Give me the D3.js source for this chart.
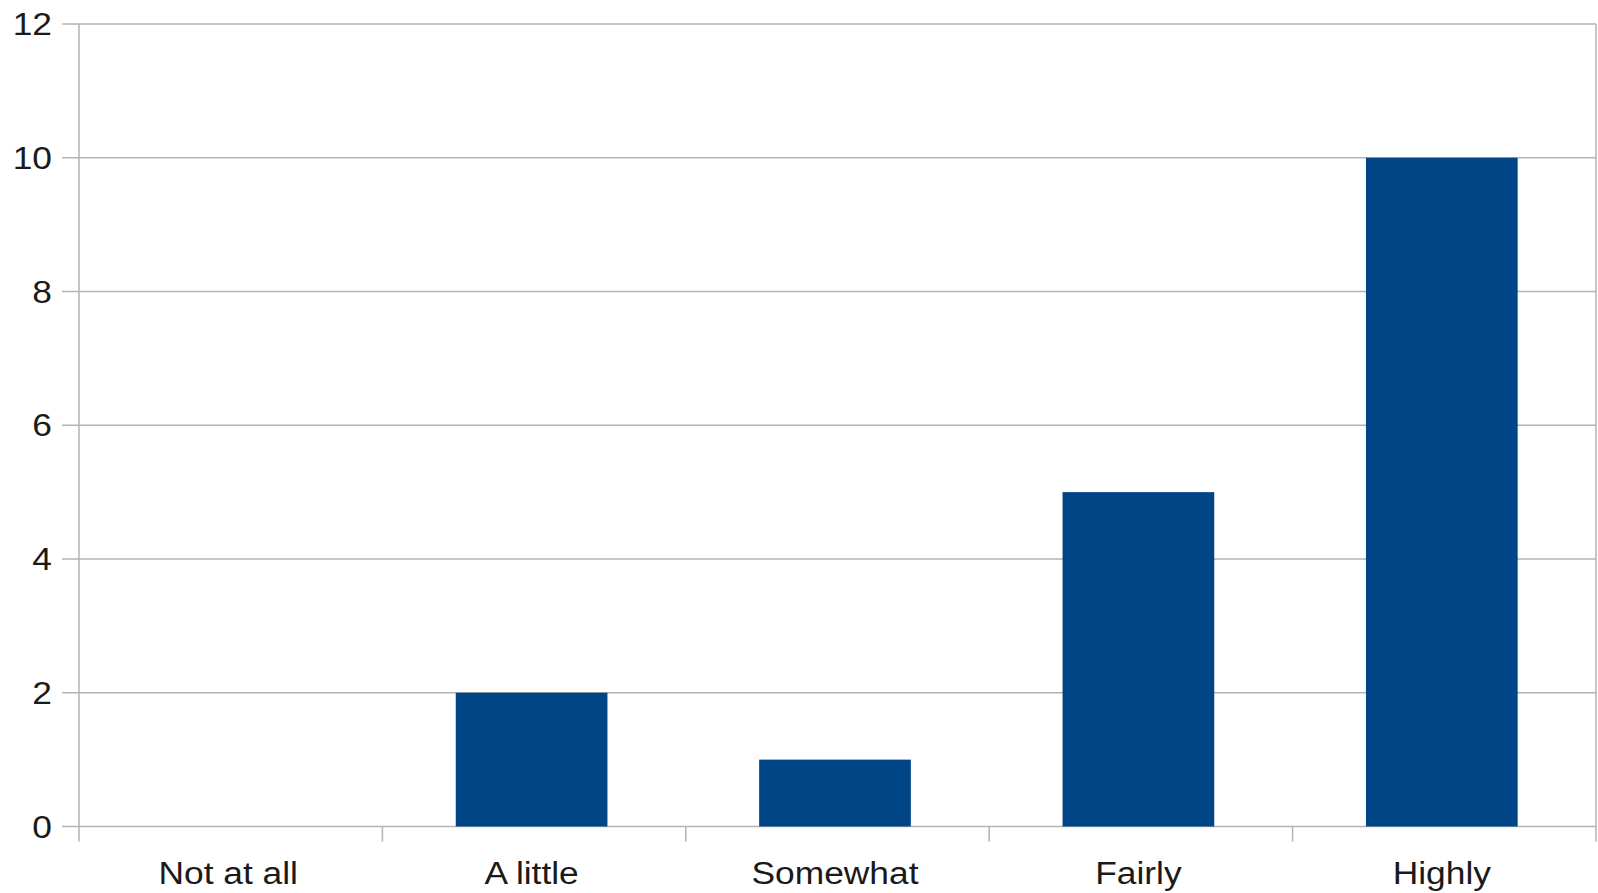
<!DOCTYPE html>
<html>
<head>
<meta charset="utf-8">
<script src="https://cdn.jsdelivr.net/npm/d3@7"></script>
<style>
  html, body { margin: 0; padding: 0; background: #ffffff; }
  svg { display: block; }
  text { font-family: "Liberation Sans", Arial, sans-serif; fill: #1a1a1a; }
</style>
</head>
<body>
<svg id="chart" width="1598" height="893"></svg>
<script>
// Response categories and counts
const categories = ["Not at all", "A little", "Somewhat", "Fairly", "Highly"];
const counts = [0, 2, 1, 5, 10];
const yTicks = [0, 2, 4, 6, 8, 10, 12];

const W = 1598, H = 893;
const plot = { left: 79, right: 1596, top: 24, bottom: 826.5 };
const fontSize = 31;
const stretch = 1.14;
const barShift = -2.5;

const svg = d3.select("#chart");

const x = d3.scaleBand()
  .domain(categories)
  .range([plot.left + barShift, plot.right + barShift])
  .paddingInner(0.5)
  .paddingOuter(0.25);

const y = d3.scaleLinear()
  .domain([0, 12])
  .range([plot.bottom, plot.top]);

const gridColor = "#b3b3b3";

// Horizontal gridlines
svg.append("g")
  .selectAll("line")
  .data(yTicks)
  .join("line")
  .attr("x1", plot.left - 17)
  .attr("x2", plot.right)
  .attr("y1", d => y(d))
  .attr("y2", d => y(d))
  .attr("stroke", gridColor)
  .attr("stroke-width", 1.5);

// Bars
svg.append("g")
  .selectAll("rect")
  .data(categories.map((c, i) => ({ c, v: counts[i] })))
  .join("rect")
  .attr("x", d => x(d.c))
  .attr("width", x.bandwidth())
  .attr("y", d => y(d.v))
  .attr("height", d => y(0) - y(d.v))
  .attr("fill", "#004586");

// Y axis line
svg.append("line")
  .attr("x1", plot.left).attr("x2", plot.left)
  .attr("y1", plot.top).attr("y2", plot.bottom + 15)
  .attr("stroke", gridColor).attr("stroke-width", 1.5);

// Right plot border
svg.append("line")
  .attr("x1", plot.right).attr("x2", plot.right)
  .attr("y1", plot.top).attr("y2", plot.bottom + 15)
  .attr("stroke", gridColor).attr("stroke-width", 1.5);

// Category separator ticks on the x axis
const step = (plot.right - plot.left) / categories.length;
const sepPositions = d3.range(1, categories.length).map(i => plot.left + i * step);
svg.append("g")
  .selectAll("line")
  .data(sepPositions)
  .join("line")
  .attr("x1", d => d).attr("x2", d => d)
  .attr("y1", plot.bottom).attr("y2", plot.bottom + 15)
  .attr("stroke", gridColor).attr("stroke-width", 1.5);

// Y tick labels
svg.append("g")
  .selectAll("text")
  .data(yTicks)
  .join("text")
  .attr("transform", d => `translate(52,${y(d)}) scale(${stretch},1)`)
  .attr("dy", "0.36em")
  .attr("text-anchor", "end")
  .style("font-size", fontSize + "px")
  .text(d => d);

// X category labels
svg.append("g")
  .selectAll("text")
  .data(categories)
  .join("text")
  .attr("transform", d => `translate(${x(d) + x.bandwidth() / 2},884) scale(${stretch},1)`)
  .attr("text-anchor", "middle")
  .style("font-size", fontSize + "px")
  .text(d => d);
</script>
</body>
</html>
